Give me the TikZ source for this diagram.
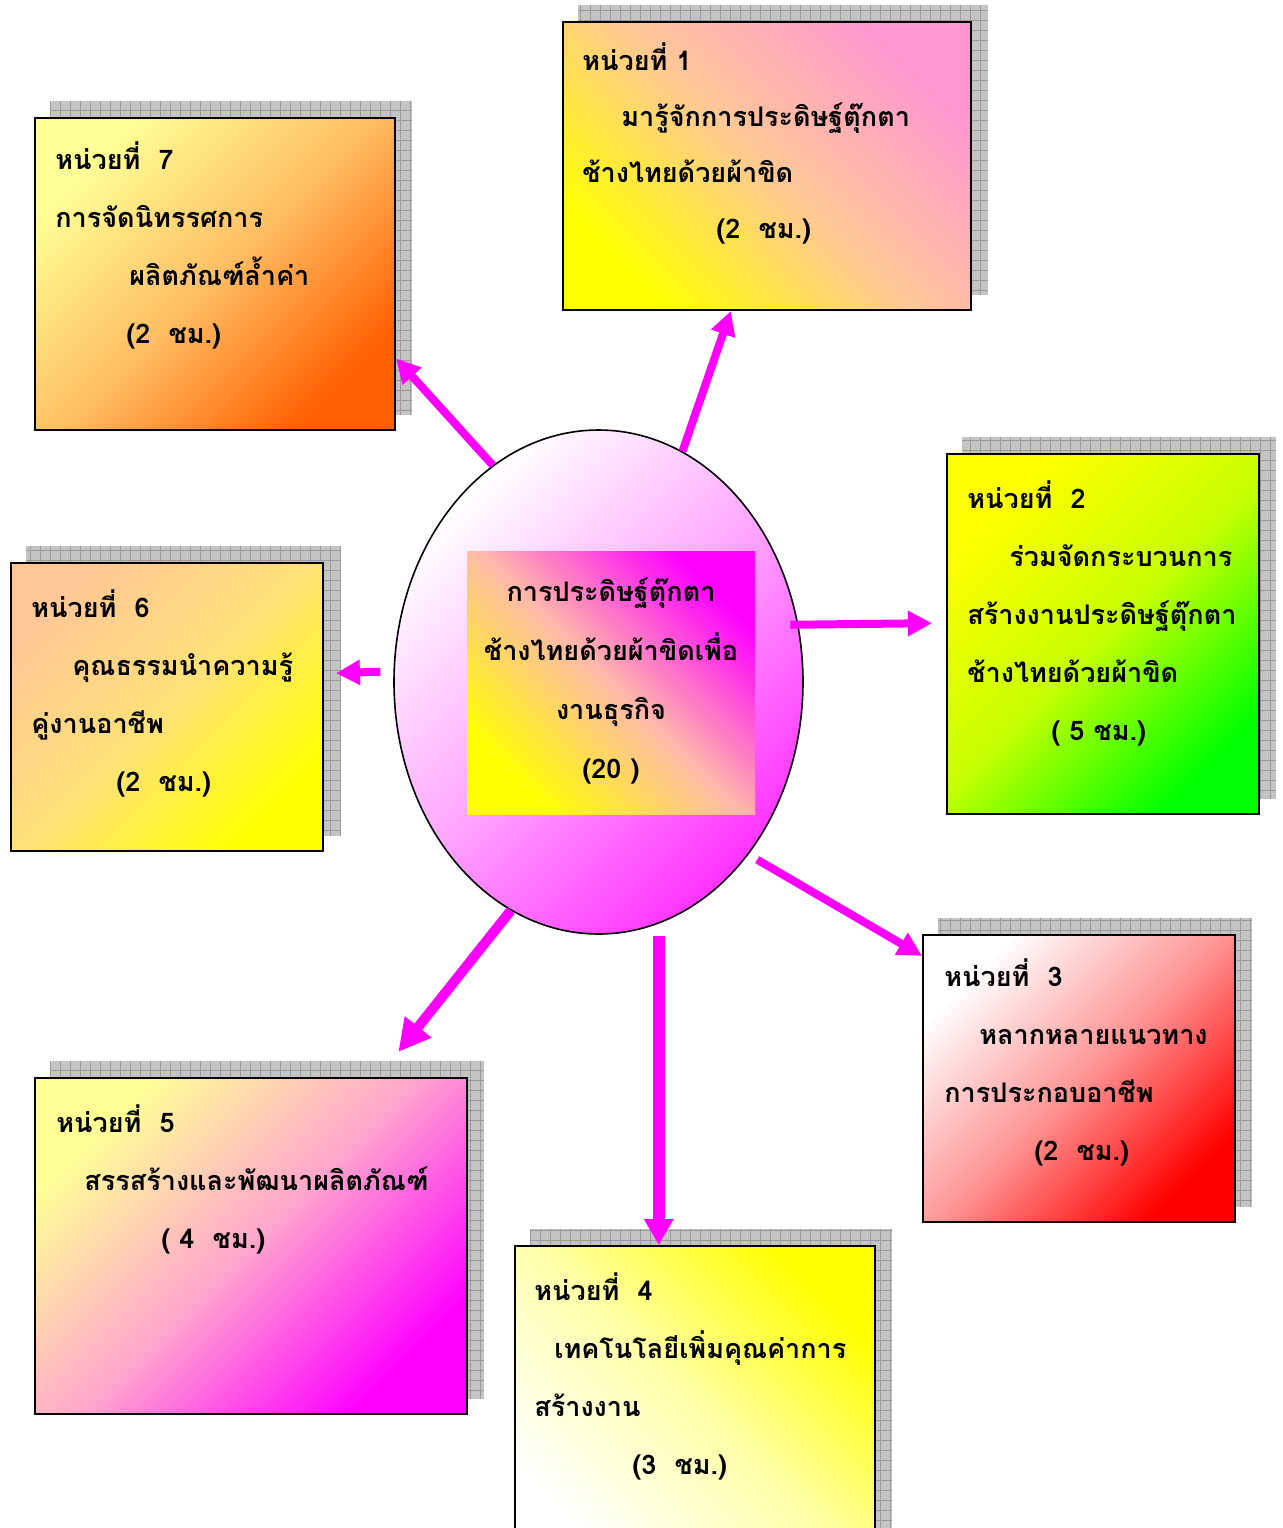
\documentclass[tikz,border=0pt]{standalone}
\usepackage{fontspec}
\setmainfont{Liberation Serif}
\newfontfamily\thaifont[Script=Thai]{Loma}
\usetikzlibrary{shapes.geometric,arrows.meta,backgrounds}

\definecolor{spokemag}{HTML}{FF00FF}
\definecolor{shadowgrey}{HTML}{C4C4C4}
\definecolor{shadowline}{HTML}{9A9A9A}

\tikzset{
    unitbox/.style={rectangle, draw=black, line width=1pt, inner sep=0pt},
    unittext/.style={anchor=base west, align=left, inner sep=0pt,
        font=\thaifont\bfseries\fontsize{13.5}{29}\selectfont},
    spoke/.style={draw=spokemag, line width=4pt,
        -{Triangle[length=12pt,width=12pt]}}
}

\begin{document}
\begin{tikzpicture}[x=0.5pt,y=-0.5pt]
\useasboundingbox (0,0) rectangle (1282,1528);

% centre
\node (hub) [ellipse, draw=black, line width=0.8pt, inner sep=0pt,
    minimum width=204.5pt, minimum height=252pt,
    top color=white, bottom color=spokemag!80, middle color=spokemag!35,
    shading angle=45] at (598.5,682) {};
\node (ctr) [rectangle, inner sep=0pt, minimum width=144pt, minimum height=131.5pt,
    top color=spokemag, bottom color=yellow, middle color={rgb,255:red,255;green,185;blue,170},
    shading angle=-45] at (611,682.5) {};
\node (ctrtext) [anchor=base, align=center, inner sep=0pt,
    font=\thaifont\bfseries\fontsize{13.5}{29.5}\selectfont]
    at ([yshift=-47.75pt]ctr.center)
    {การประดิษฐ์ตุ๊กตา\\ช้างไทยด้วยผ้าขิดเพื่อ\\งานธุรกิจ\\(20 )};

% units
\node (u1) [unitbox, minimum width=204pt, minimum height=144pt,
    top color={rgb,255:red,255;green,150;blue,210}, bottom color=yellow,
    middle color={rgb,255:red,255;green,200;blue,150}, shading angle=-45] at (767,166) {};
\node (u2) [unitbox, minimum width=156pt, minimum height=180pt,
    top color=yellow, bottom color={rgb,255:red,0;green,255;blue,0},
    middle color={rgb,255:red,200;green,255;blue,0}, shading angle=45] at (1103,634) {};
\node (u3) [unitbox, minimum width=156pt, minimum height=143.5pt,
    top color=white, bottom color=red,
    middle color={rgb,255:red,255;green,150;blue,150}, shading angle=45] at (1079,1078.5) {};
\node (u4) [unitbox, minimum width=180pt, minimum height=160pt,
    top color=yellow, bottom color=white,
    middle color={rgb,255:red,255;green,255;blue,170}, shading angle=-45] at (695,1406) {};
\node (u5) [unitbox, minimum width=216pt, minimum height=168pt,
    top color={rgb,255:red,255;green,255;blue,150}, bottom color=spokemag,
    middle color={rgb,255:red,255;green,165;blue,205}, shading angle=45] at (251,1246) {};
\node (u6) [unitbox, minimum width=156pt, minimum height=144pt,
    top color={rgb,255:red,255;green,200;blue,150}, bottom color=yellow,
    middle color={rgb,255:red,255;green,225;blue,120}, shading angle=45] at (167,707) {};
\node (u7) [unitbox, minimum width=180pt, minimum height=156pt,
    top color={rgb,255:red,255;green,255;blue,150}, bottom color={rgb,255:red,255;green,95;blue,0},
    middle color={rgb,255:red,255;green,190;blue,100}, shading angle=45] at (215,274) {};

% shadows
\begin{scope}[on background layer]
\foreach \u in {u1,u2,u3,u4,u5,u6,u7}{
    \fill[shadowgrey] ([shift={(16,-16)}]\u.south west) rectangle ([shift={(16,-16)}]\u.north east);
    \draw[shadowline, line width=0.3pt, step=5pt]
        ([shift={(16,-16)}]\u.south west) grid ([shift={(16,-16)}]\u.north east);
}
\end{scope}

% texts (anchored on the last line)
\node (t1) [unittext, font=\thaifont\bfseries\fontsize{13.5}{28}\selectfont] at ([shift={(20,217)}]u1.north west)
    {หน่วยที่ 1\\\hspace*{19.5pt}มารู้จักการประดิษฐ์ตุ๊กตา\\ช้างไทยด้วยผ้าขิด\\\hspace*{67pt}(2~~ชม.)};
\node (t2) [unittext] at ([shift={(21,287)}]u2.north west)
    {หน่วยที่~~2\\\hspace*{21pt}ร่วมจัดกระบวนการ\\สร้างงานประดิษฐ์ตุ๊กตา\\ช้างไทยด้วยผ้าขิด\\\hspace*{42pt}( 5 ชม.)};
\node (t3) [unittext] at ([shift={(22,226)}]u3.north west)
    {หน่วยที่~~3\\\hspace*{17.5pt}หลากหลายแนวทาง\\การประกอบอาชีพ\\\hspace*{45pt}(2~~ชม.)};
\node (t4) [unittext] at ([shift={(20,229)}]u4.north west)
    {หน่วยที่~~4\\\hspace*{10pt}เทคโนโลยีเพิ่มคุณค่าการ\\สร้างงาน\\\hspace*{49pt}(3~~ชม.)};
\node (t5) [unittext] at ([shift={(22,171)}]u5.north west)
    {หน่วยที่~~5\\\hspace*{14pt}สรรสร้างและพัฒนาผลิตภัณฑ์\\\hspace*{52.5pt}(~4~~ชม.)};
\node (t6) [unittext] at ([shift={(21,229)}]u6.north west)
    {หน่วยที่~~6\\\hspace*{20.5pt}คุณธรรมนำความรู้\\คู่งานอาชีพ\\\hspace*{42.5pt}(2~~ชม.)};
\node (t7) [unittext] at ([shift={(21,226)}]u7.north west)
    {หน่วยที่~~7\\การจัดนิทรรศการ\\\hspace*{37pt}ผลิตภัณฑ์ล้ำค่า\\\hspace*{35.5pt}(2~~ชม.)};

% spokes
\draw[spoke] (hub.70) -- (u1.256);
\draw[spoke, shorten <=-4pt, shorten >=7pt] (hub.16) -- (u2.176);
\draw[spoke, shorten <=5pt] (hub.-49) -- (u3.142);
\draw[spoke, line width=6pt, -{Triangle[length=13pt,width=14pt]}, shorten <=6pt] (hub.-76) -- (hub.-76 |- u4.north);
\draw[spoke, line width=5pt, -{Triangle[length=16pt,width=16pt]}, shorten >=16pt] (hub.-111) -- (u5.53.5);
\draw[spoke, shorten <=6.5pt, shorten >=6pt] (hub.177) -- (u6.12);
\draw[spoke] (hub.116) -- (u7.-25);
\end{tikzpicture}
\end{document}
